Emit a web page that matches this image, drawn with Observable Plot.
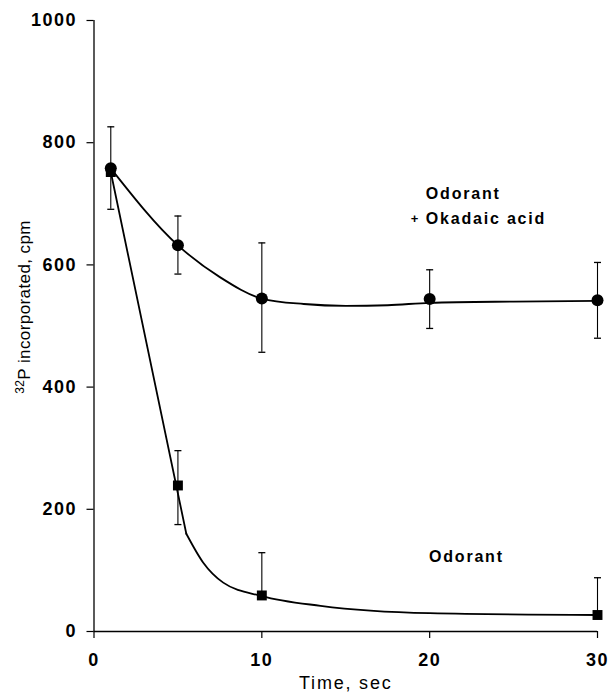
<!DOCTYPE html>
<html><head><meta charset="utf-8">
<script src="https://cdn.jsdelivr.net/npm/d3@7"></script>
<script src="https://cdn.jsdelivr.net/npm/@observablehq/plot@0.6"></script>
<style>
body{margin:0;background:#fff;}
svg text{font-family:"Liberation Sans",Arial,Helvetica,sans-serif;}
g[aria-label="y-axis tick label"] text, g[aria-label="x-axis tick label"] text{letter-spacing:1.5px;}
</style></head><body><div id="chart"></div>
<script>
// Measured points (time, sec -> 32P incorporated, cpm)
const okT = [1, 5, 10, 20, 30];
const okV = [758, 632, 545, 544, 542];
const okLow = [691, 585, 457, 496, 480];
const okHigh = [826, 680, 636, 592, 604];

const odT = [1, 5, 10, 30];
const odV = [752, 239, 59, 27];
const odLow = [null, 175, null, null];
const odHigh = [null, 296, 129, 88];

// Fitted curves
const okCurveT = [1, 5, 7.5, 10, 12.5, 15, 17.5, 20, 25, 30];
const okCurveV = [758, 632, 580, 545, 536, 533, 534, 538, 540, 541];
const odLineT = [1, 5.5];
const odLineV = [752, 160];
const odCurveT = [5.5, 6.5, 7.7, 10, 13.5, 20, 30];
const odCurveV = [160, 113, 80, 58, 42, 30, 27];

const xTicks = [0, 10, 20, 30];
const yTicks = [0, 200, 400, 600, 800, 1000];
const labels = ["Odorant", "Okadaic acid", "Odorant"];
const yTitle = ["32", "P incorporated, cpm"];
const xTitle = "Time, sec";

const ok = okT.map((t, i) => ({t, v: okV[i], low: okLow[i], high: okHigh[i]}));
const od = odT.map((t, i) => ({t, v: odV[i], low: odLow[i], high: odHigh[i]}));
const okCurve = okCurveT.map((t, i) => ({t, v: okCurveV[i]}));
const odLine = odLineT.map((t, i) => ({t, v: odLineV[i]}));
const odCurve = odCurveT.map((t, i) => ({t, v: odCurveV[i]}));

const caps = [];
for (const d of ok) { caps.push({t: d.t, v: d.low}, {t: d.t, v: d.high}); }
for (const d of od) { if (d.low != null) caps.push({t: d.t, v: d.low}); if (d.high != null) caps.push({t: d.t, v: d.high}); }
const bars = [...ok, ...od.filter(d => d.high != null).map(d => ({t: d.t, low: d.low ?? d.v, high: d.high}))];

const capSymbol = {draw(ctx, size) { const r = Math.sqrt(size / Math.PI); ctx.moveTo(-r, 0); ctx.lineTo(r, 0); }};

const chart = Plot.plot({
  width: 611, height: 695,
  marginLeft: 93.5, marginRight: 14, marginTop: 20, marginBottom: 64,
  x: {domain: [0, 30]},
  y: {domain: [0, 1000]},
  style: {background: "#fff", color: "#000"},
  marks: [
    Plot.axisY({ticks: yTicks, tickFormat: d => String(d), tickSize: 7, tickPadding: 10, fontSize: 18, fontWeight: "bold", label: null, strokeWidth: 1.2}),
    Plot.axisX({ticks: xTicks, tickFormat: d => String(d), tickSize: 7, tickPadding: 15, fontSize: 18, fontWeight: "bold", label: null, strokeWidth: 1.2}),
    Plot.ruleX([0], {stroke: "#000", strokeWidth: 1.3}),
    Plot.ruleY([0], {stroke: "#000", strokeWidth: 1.3}),
    Plot.ruleX(bars, {x: "t", y1: "low", y2: "high", stroke: "#000", strokeWidth: 1.1}),
    Plot.dot(caps, {x: "t", y: "v", symbol: capSymbol, r: 3.5, stroke: "#000", strokeWidth: 1.3, fill: "none"}),
    Plot.line(okCurve, {x: "t", y: "v", curve: "monotone-x", stroke: "#000", strokeWidth: 1.8}),
    Plot.line(odLine, {x: "t", y: "v", curve: "linear", stroke: "#000", strokeWidth: 1.8}),
    Plot.line(odCurve, {x: "t", y: "v", curve: "monotone-x", stroke: "#000", strokeWidth: 1.8}),
    Plot.dot(ok, {x: "t", y: "v", r: 6, fill: "#000", stroke: null}),
    Plot.dot(od, {x: "t", y: "v", r: 5.6, symbol: "square", fill: "#000", stroke: null}),
    Plot.text([labels[0]], {x: 19.77, y: 708, text: d => d, textAnchor: "start", lineAnchor: "bottom", fontSize: 16, fontWeight: "bold"}),
    Plot.text([labels[1]], {x: 19.77, y: 667, text: d => d, textAnchor: "start", lineAnchor: "bottom", fontSize: 16, fontWeight: "bold"}),
    Plot.text(["+"], {x: 19.15, y: 675, text: d => d, textAnchor: "middle", lineAnchor: "middle", fontSize: 13, fontWeight: "bold"}),
    Plot.text([labels[2]], {x: 19.96, y: 113, text: d => d, textAnchor: "start", lineAnchor: "bottom", fontSize: 16, fontWeight: "bold"}),
    Plot.text([xTitle], {frameAnchor: "bottom", dy: 52, text: d => d, lineAnchor: "middle", fontSize: 18, fontWeight: "normal"})
  ]
});
document.getElementById("chart").appendChild(chart);

// letter spacing for annotation texts
d3.select(chart).selectAll('g[aria-label="text"] text').style("letter-spacing", "1.8px");

// rotated y-axis title with superscript
const yt = d3.select(chart).append("text")
  .attr("transform", "translate(30,307) rotate(-90)")
  .attr("text-anchor", "middle")
  .attr("font-size", 17)
  .attr("fill", "#000")
  .style("letter-spacing", "0.4px");
yt.append("tspan").attr("font-size", 12).attr("dy", -6).text(yTitle[0]);
yt.append("tspan").attr("dy", 6).text(yTitle[1]);
</script></body></html>
